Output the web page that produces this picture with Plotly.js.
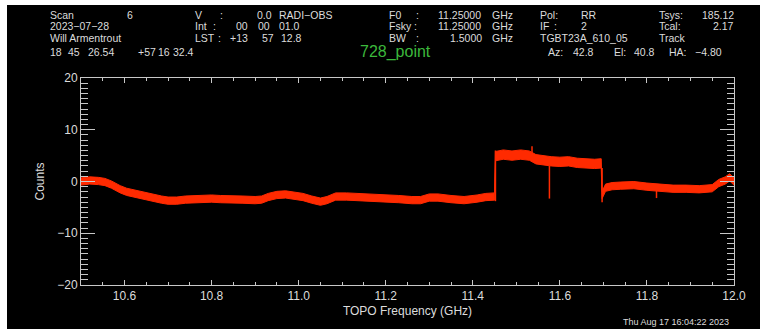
<!DOCTYPE html>
<html>
<head>
<meta charset="utf-8">
<script src="https://cdn.plot.ly/plotly-3.0.1.min.js"></script>
<style>
  html, body { margin: 0; padding: 0; background: #ffffff; width: 760px; height: 329px; overflow: hidden; }
  #chart { position: absolute; left: 7px; top: 5px; width: 753px; height: 324px; background: #000; }
</style>
</head>
<body>
<div id="chart"></div>
<script>
// ---- Data ----
const freqGHz = [
  10.500, 10.520, 10.540, 10.555, 10.570, 10.590, 10.605, 10.625, 10.645, 10.665,
  10.685, 10.700, 10.720, 10.740, 10.760, 10.780, 10.800, 10.820, 10.840, 10.870,
  10.900, 10.915, 10.930, 10.950, 10.970, 10.990, 11.010, 11.030, 11.050, 11.065,
  11.085, 11.110, 11.140, 11.170, 11.200, 11.230, 11.260, 11.280, 11.300, 11.320,
  11.350, 11.380, 11.410, 11.430, 11.450, 11.452, 11.470, 11.490, 11.510, 11.530,
  11.545, 11.560, 11.580, 11.600, 11.620, 11.640, 11.660, 11.680, 11.695, 11.697,
  11.705, 11.720, 11.740, 11.770, 11.800, 11.830, 11.860, 11.890, 11.920, 11.950,
  11.965, 11.980, 11.990, 12.000
];
// upper and lower edge of the noisy band (Counts)
const bandTop = [
   0.7,  0.9,  0.8,  0.6,  0.1, -0.8, -1.3, -1.7, -2.0, -2.4,
  -2.8, -3.0, -3.0, -2.8, -2.7, -2.6, -2.6, -2.7, -2.7, -2.8,
  -2.9, -2.8, -2.3, -1.9, -1.8, -2.0, -2.3, -2.8, -3.2, -2.9,
  -2.2, -2.2, -2.3, -2.5, -2.5, -2.7, -2.9, -2.9, -2.4, -2.4,
  -2.7, -2.9, -2.6, -2.3, -2.2,  5.8,  6.1,  5.9,  6.1,  5.9,
   5.2,  5.0,  4.8,  4.7,  4.8,  4.5,  4.4,  4.3,  4.4, -1.9,
  -0.5, -0.2, -0.1,  0.0, -0.3, -0.5, -0.7, -0.7, -0.8, -0.6,
   0.4,  0.9,  1.5,  0.7
];
const bandBottom = [
  -0.7, -0.5, -0.6, -0.8, -1.3, -2.2, -2.7, -3.1, -3.4, -3.8,
  -4.2, -4.4, -4.4, -4.2, -4.1, -4.0, -4.0, -4.1, -4.1, -4.2,
  -4.3, -4.2, -3.7, -3.3, -3.2, -3.4, -3.7, -4.2, -4.6, -4.3,
  -3.6, -3.6, -3.7, -3.9, -3.9, -4.1, -4.3, -4.3, -3.8, -3.8,
  -4.1, -4.3, -4.0, -3.7, -3.6,  4.0,  4.3,  4.1,  4.3,  4.1,
   3.4,  3.2,  3.0,  2.9,  3.0,  2.7,  2.6,  2.5,  2.6, -3.3,
  -1.9, -1.6, -1.5, -1.4, -1.7, -1.9, -2.1, -2.1, -2.2, -2.0,
  -1.0, -0.5,  0.1, -0.7
];
// narrow spikes (pairs separated by gaps)
const spikeFreq   = [11.452, 11.452, null, 11.536, 11.536, null, 11.576, 11.576, null, 11.697, 11.697, null, 11.822, 11.822];
const spikeCounts = [-3.8,   6.0,    null, 5.5,    6.8,    null, 3.0,    -3.3,   null, 2.6,    -4.0,   null, -1.5,   -3.2];

const xTickLabels = ['10.6', '10.8', '11.0', '11.2', '11.4', '11.6', '11.8', '12.0'];
const xTickVals = [10.6, 10.8, 11.0, 11.2, 11.4, 11.6, 11.8, 12.0];
const yTickVals = [-20, -10, 0, 10, 20];

// header texts (word groups placed where the reference shows them)
const headerRows = [
  {t: 'Scan', x: 49, y: 15}, {t: '6', x: 126, y: 15},
  {t: '2023\u221207\u221228', x: 49, y: 26},
  {t: 'Will Armentrout', x: 49, y: 37.5},
  {t: 'V', x: 194, y: 15}, {t: ':', x: 219, y: 15}, {t: '0.0', x: 256, y: 15}, {t: 'RADI\u2212OBS', x: 278, y: 15},
  {t: 'Int', x: 194, y: 26}, {t: ':', x: 212, y: 26}, {t: '00', x: 235, y: 26}, {t: '00', x: 257, y: 26}, {t: '01.0', x: 278, y: 26},
  {t: 'LST', x: 194, y: 37.5}, {t: ':', x: 217, y: 37.5}, {t: '+13', x: 229, y: 37.5}, {t: '57', x: 261, y: 37.5}, {t: '12.8', x: 280, y: 37.5},
  {t: 'F0', x: 388, y: 15}, {t: ':', x: 415, y: 15}, {t: '11.25000', x: 437, y: 15}, {t: 'GHz', x: 491, y: 15},
  {t: 'Fsky', x: 388, y: 26}, {t: ':', x: 413, y: 26}, {t: '11.25000', x: 437, y: 26}, {t: 'GHz', x: 491, y: 26},
  {t: 'BW', x: 388, y: 37.5}, {t: ':', x: 415, y: 37.5}, {t: '1.5000', x: 449, y: 37.5}, {t: 'GHz', x: 491, y: 37.5},
  {t: 'Pol:', x: 539, y: 15}, {t: 'RR', x: 580, y: 15},
  {t: 'IF', x: 539, y: 26}, {t: ':', x: 553, y: 26}, {t: '2', x: 580, y: 26},
  {t: 'TGBT23A_610_05', x: 539, y: 37.5},
  {t: 'Tsys:', x: 658, y: 15}, {t: 'Tcal:', x: 658, y: 26}, {t: 'Track', x: 658, y: 37.5},
  {t: '18', x: 49, y: 52}, {t: '45', x: 67, y: 52}, {t: '26.54', x: 87, y: 52},
  {t: '+57', x: 137, y: 52}, {t: '16', x: 157, y: 52}, {t: '32.4', x: 172, y: 52},
  {t: 'Az:', x: 547, y: 52}, {t: '42.8', x: 572, y: 52}, {t: 'El:', x: 613, y: 52}, {t: '40.8', x: 633, y: 52}, {t: 'HA:', x: 668, y: 52}
];
const headerRight = [
  {t: '185.12', x: 735, y: 15}, {t: '2.17', x: 735, y: 26}, {t: '\u22124.80', x: 723, y: 52}
];
const scanTitle = '728_point';
const dateStamp = 'Thu Aug 17 16:04:22 2023';

// ---- Layout helpers (page pixel -> paper coords; plot area 81..734 x 78..285) ----
const PL = 81, PR = 734, PT = 78, PB = 285;
const px2x = p => (p - PL) / (PR - PL);
const py2y = p => (PB - p) / (PB - PT);
const txtColor = '#dcdcdc';
const fam = 'Liberation Sans, Arial, sans-serif';
const font = {family: fam, size: 12, color: txtColor};
const headFont = {family: fam, size: 10.5, color: txtColor};

const annotations = [];
headerRows.forEach(h => annotations.push({
  text: h.t, xref: 'paper', yref: 'paper', x: px2x(h.x), y: py2y(h.y),
  xanchor: 'left', yanchor: 'middle', showarrow: false, font: headFont, borderpad: 0
}));
headerRight.forEach(h => annotations.push({
  text: h.t, xref: 'paper', yref: 'paper', x: px2x(h.x), y: py2y(h.y),
  xanchor: 'right', yanchor: 'middle', showarrow: false, font: headFont, borderpad: 0
}));
annotations.push({
  text: scanTitle, xref: 'paper', yref: 'paper', x: px2x(395), y: py2y(52),
  xanchor: 'center', yanchor: 'middle', showarrow: false, borderpad: 0,
  font: {family: fam, size: 16, color: '#3cb83c'}
});
annotations.push({
  text: dateStamp, xref: 'paper', yref: 'paper', x: px2x(730), y: py2y(321.5),
  xanchor: 'right', yanchor: 'middle', showarrow: false, borderpad: 0,
  font: {family: fam, size: 9, color: txtColor}
});

const red = '#ff2a00';
const traces = [
  {x: freqGHz, y: bandBottom, mode: 'lines', line: {color: red, width: 1}, hoverinfo: 'skip', showlegend: false},
  {x: freqGHz, y: bandTop, mode: 'lines', fill: 'tonexty', fillcolor: red, line: {color: red, width: 1}, hoverinfo: 'skip', showlegend: false},
  {x: spikeFreq, y: spikeCounts, mode: 'lines', connectgaps: false, line: {color: red, width: 1.5}, hoverinfo: 'skip', showlegend: false}
];

const axColor = '#c8c8c8';
const layout = {
  width: 753, height: 324,
  margin: {l: 74, r: 26, t: 73, b: 44, pad: 0},
  paper_bgcolor: '#000000', plot_bgcolor: '#000000',
  showlegend: false, hovermode: false,
  font: font,
  xaxis: {
    range: [10.5, 12.0], tickvals: xTickVals, ticktext: xTickLabels,
    ticks: 'inside', ticklen: 5, tickwidth: 1, tickcolor: axColor,
    minor: {dtick: 0.05, tick0: 10.5, ticks: 'inside', ticklen: 3, tickwidth: 1, tickcolor: axColor, showgrid: false},
    showline: true, linecolor: axColor, linewidth: 1, mirror: 'allticks',
    showgrid: false, zeroline: false, tickfont: font,
    title: {text: 'TOPO Frequency (GHz)', font: font, standoff: 4}
  },
  yaxis: {
    range: [-20, 20], tickvals: yTickVals,
    ticks: 'inside', ticklen: 14, tickwidth: 1, tickcolor: axColor,
    minor: {dtick: 1, tick0: 0, ticks: 'inside', ticklen: 7, tickwidth: 1, tickcolor: axColor, showgrid: false},
    showline: true, linecolor: axColor, linewidth: 1, mirror: 'allticks',
    showgrid: false, zeroline: false, tickfont: font,
    title: {text: 'Counts', font: font, standoff: 10}
  },
  annotations: annotations
};

Plotly.newPlot('chart', traces, layout, {staticPlot: true, displayModeBar: false});
</script>
</body>
</html>
